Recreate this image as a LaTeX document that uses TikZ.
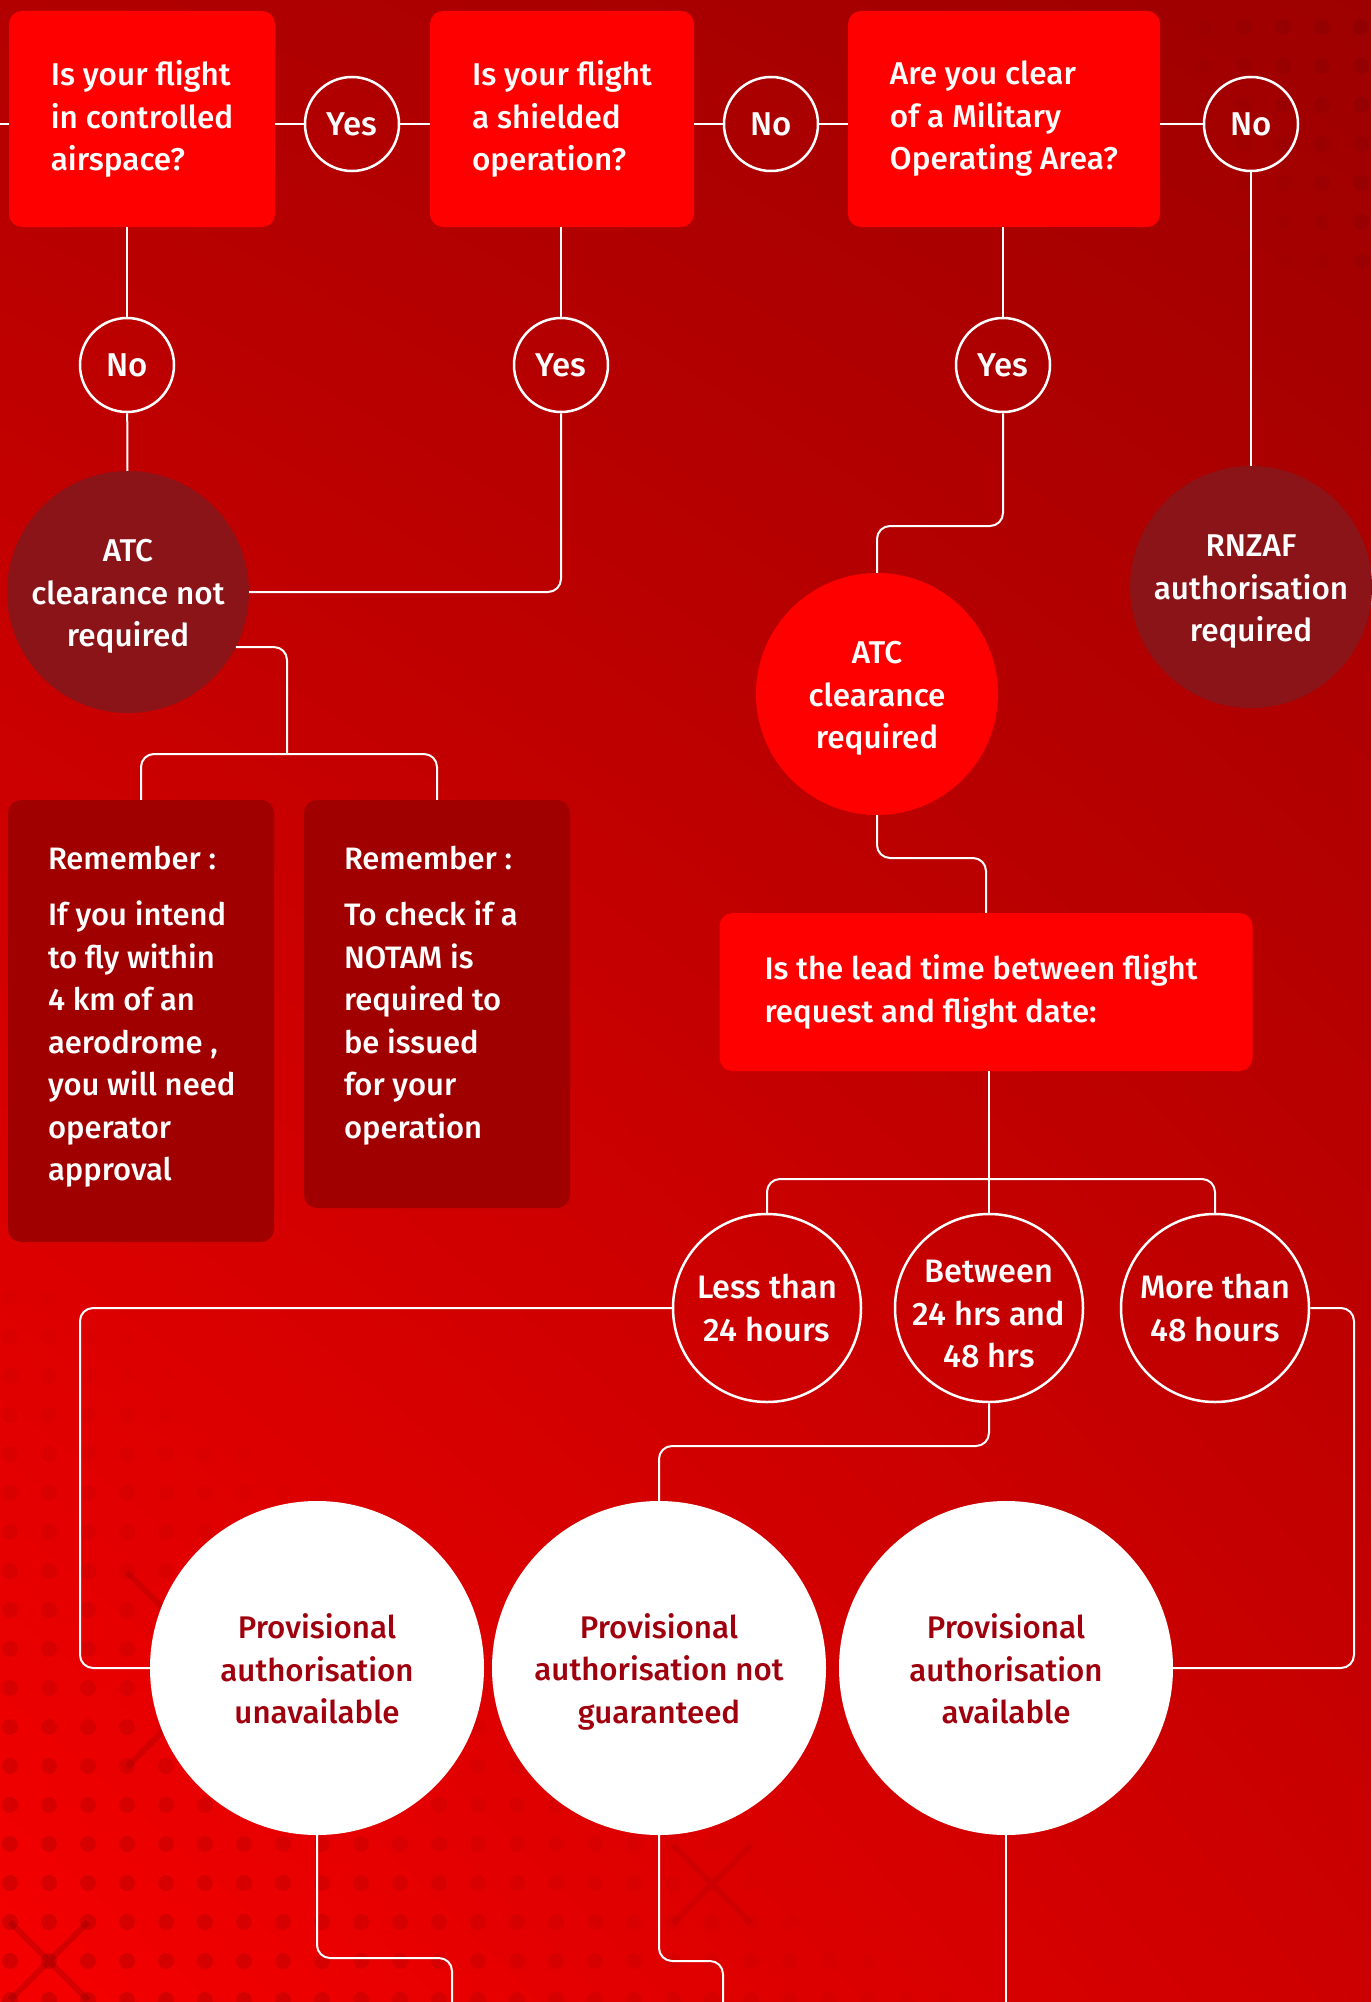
\documentclass[tikz,border=0pt]{standalone}
\usepackage{fontspec}
\IfFontExistsTF{Fira Sans Medium}{\setmainfont{Fira Sans Medium}}{\setmainfont{Fira Sans}[UprightFont={* Bold}]}
\usetikzlibrary{calc,shadings}
\definecolor{boxred}{HTML}{FF0000}
\definecolor{remred}{HTML}{A10000}
\definecolor{darkc}{HTML}{8B1418}
\definecolor{txtred}{HTML}{A0000E}
\definecolor{bgTL}{HTML}{B20000}
\definecolor{bgTR}{HTML}{9E0000}
\definecolor{bgBL}{HTML}{F60000}
\definecolor{bgBR}{HTML}{CC0000}
\newcommand\lift[1]{\rule{0pt}{#1}}
\newcommand\remtext[2]{\parbox[c][#1][t]{266pt}{\leftskip=40pt\parindent=0pt\vspace*{46pt}#2}}
\begin{document}
\begin{tikzpicture}[x=1pt,y=-1pt,
  every node/.style={text=white, inner sep=0pt, font=\fontsize{31}{42.5}\selectfont},
  qbox/.style={fill=boxred, rounded corners=13pt, align=left, font=\fontsize{31.5}{42.5}\selectfont},
  rbox/.style={fill=remred, rounded corners=13pt, font=\fontsize{31}{42.5}\selectfont},
  ans/.style={circle, draw=white, line width=2.5pt, minimum size=94pt, font=\fontsize{33}{40}\selectfont},
  bigc/.style={circle, minimum size=242pt, inner sep=-20pt, align=center, font=\fontsize{31.5}{42.5}\selectfont},
  tc/.style={circle, draw=white, line width=2.5pt, minimum size=188pt, inner sep=-20pt, align=center, font=\fontsize{32.5}{42.5}\selectfont},
  wc/.style={circle, fill=white, minimum size=334pt, inner sep=-30pt, align=center, text=txtred, font=\fontsize{31.3}{42.5}\selectfont},
  link/.style={draw=white, line width=2pt, rounded corners=13pt},
  deco/.style={fill=black},
]
% background
\useasboundingbox (0,0) rectangle (1371,2002);
\shade[upper left=bgTL, upper right=bgTR, lower left=bgBL, lower right=bgBR] (0,0) rectangle (1371,2002);
% dot pattern lower left
\foreach \i in {0,...,30}{
  \foreach \j in {0,...,18}{
    \pgfmathsetmacro\dx{10+39*\i}
    \pgfmathsetmacro\dy{1298+39*\j}
    \pgfmathsetmacro\op{max(0,0.14*(1-(\dx+1.29*(2002-\dy))/1000))}
    \ifdim\op pt>0.002pt
      \fill[deco, opacity=\op] (\dx,\dy) circle (8pt);
    \fi
  }
}
% dot pattern upper right
\foreach \i in {0,...,4}{
  \foreach \j in {0,...,6}{
    \pgfmathsetmacro\dx{1205+39*\i}
    \pgfmathsetmacro\dy{27+39*\j}
    \pgfmathsetmacro\op{max(0,0.08*(1-((1371-\dx)+0.5*\dy)/280))}
    \ifdim\op pt>0.002pt
      \fill[deco, opacity=\op] (\dx,\dy) circle (8pt);
    \fi
  }
}
% X decorations
\draw[black, opacity=0.12, line width=6pt] (10,1922) -- (88,2000) (88,1922) -- (10,2000);
\draw[black, opacity=0.09, line width=6pt] (127,1572) -- (322,1767) (127,1767) -- (322,1572);
\draw[black, opacity=0.05, line width=6pt] (673,1845) -- (751,1923) (751,1845) -- (673,1923);

% question boxes
\node[qbox, minimum width=266pt, minimum height=216pt] (b1) at (142,119) {Is your flight\\in controlled\\airspace?};
\node[qbox, minimum width=264pt, minimum height=216pt] (b2) at (562,119) {Is your flight\\a shielded\\operation?};
\node[qbox, minimum width=312pt, minimum height=216pt] (b3) at (1004,119) {Are you clear\\of a Military\\Operating Area?};
% answers
\node[ans] (y1) at (352,124) {Yes};
\node[ans] (n2) at (771,124) {No};
\node[ans] (n3) at (1251,124) {No};
\node[ans] (n1) at (127,365) {No};
\node[ans] (y2) at (561,365) {Yes};
\node[ans] (y3) at (1003,365) {Yes};
% outcome circles
\node[bigc, fill=darkc] (atcn) at (128,592) {\lift{31pt}ATC\\clearance not\\required};
\node[bigc, fill=darkc] (rn) at (1251,587) {\lift{31pt}RNZAF\\authorisation\\required};
\node[bigc, fill=boxred] (atcr) at (877,694) {\lift{31pt}ATC\\clearance\\required};
% remember boxes
\node[rbox] (r1) at (141,1021)
  {\remtext{442pt}{Remember :\\[14pt]If you intend\\to fly within\\4 km of an\\aerodrome ,\\you will need\\operator\\approval}};
\node[rbox] (r2) at (437,1004)
  {\remtext{408pt}{Remember :\\[14pt]To check if a\\NOTAM is\\required to\\be issued\\for your\\operation}};
% lead time box
\node[qbox, minimum width=533pt, minimum height=158pt, font=\fontsize{31.2}{42.5}\selectfont] (lb) at (986,992)
  {Is the lead time between flight\hspace*{10pt}\\request and flight date:};
% time circles
\node[tc] (lt) at (767,1308) {Less than\\24 hours};
\node[tc] (bt) at (989,1308) {\lift{34.5pt}Between\\24 hrs and\\48 hrs};
\node[tc] (mt) at (1215,1308) {More than\\48 hours};
% result circles
\node[wc] (uv) at (317,1668) {\lift{26.5pt}Provisional\\authorisation\\unavailable};
\node[wc] (ng) at (659,1668) {\lift{32.5pt}Provisional\\authorisation not\\guaranteed};
\node[wc] (av) at (1006,1668) {\lift{26.5pt}Provisional\\authorisation\\available};

% helper coordinates
\coordinate (le) at (0,124);
\coordinate (k1) at (0,526);
\coordinate (j1) at (287,754);
\coordinate (k2) at (0,858);
\coordinate (k3) at (0,1179);
\coordinate (k4) at (80,0);
\coordinate (k5) at (0,1446);
\coordinate (k6) at (1354,0);
\coordinate (k7) at (0,1958);
\coordinate (k8) at (0,1961);
\coordinate (e1) at (452,2002);
\coordinate (e2) at (723,2002);
\coordinate (e3) at (1006,2002);

% connectors
\draw[link] (le) -- (le -| b1.west);
\draw[link] (b1.east |- y1) -- (y1);
\draw[link] (y1) -- (y1 -| b2.west);
\draw[link] (b2.east |- n2) -- (n2);
\draw[link] (n2) -- (n2 -| b3.west);
\draw[link] (b3.east |- n3) -- (n3);
\draw[link] (b1.south -| n1) -- (n1);
\draw[link] (n1) -- (atcn);
\draw[link] (b2.south -| y2) -- (y2);
\draw[link] (y2.south) |- (atcn.east);
\draw[link] (b3.south -| y3) -- (y3);
\draw[link] (y3.south) |- (k1 -| atcr.north) -- (atcr.north);
\draw[link] (n3) -- (rn);
\draw[link] (atcn.-27) -| (j1);
\draw[link] (r1.north) |- (j1) -| (r2.north);
\draw[link] (atcr.south) |- (k2 -| lb.north) -- (lb.north);
\draw[link] (lb.south -| bt) -- (bt.north);
\draw[link] (lt.north) |- (k3 -| mt.north) -- (mt.north);
\draw[link] (lt.west) -| (k4 |- uv.west) -- (uv.west);
\draw[link] (bt.south) |- (k5 -| ng.north) -- (ng.north);
\draw[link] (mt.east) -| (k6 |- av.east) -- (av.east);
\draw[link] (uv.south) |- (k7 -| e1) -- (e1);
\draw[link] (ng.south) |- (k8 -| e2) -- (e2);
\draw[link] (av.south) -- (e3);
\end{tikzpicture}
\end{document}
